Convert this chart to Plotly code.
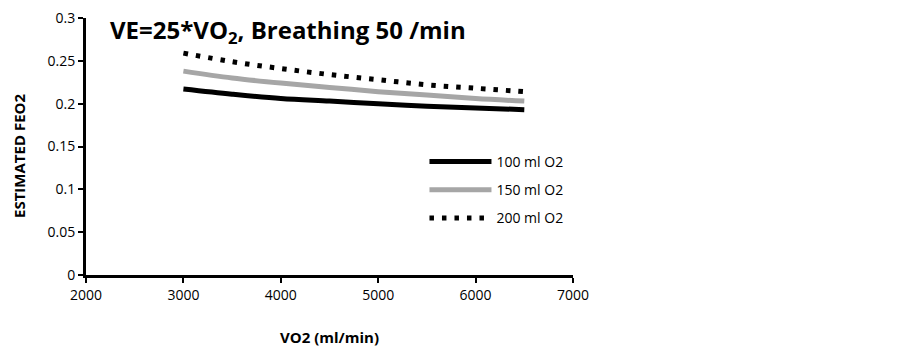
import plotly.graph_objects as go

vo2 = [3000, 3500, 4000, 4500, 5000, 5500, 6000, 6500]
feo2_100 = [0.217, 0.211, 0.206, 0.203, 0.200, 0.197, 0.195, 0.193]
feo2_150 = [0.238, 0.230, 0.224, 0.219, 0.214, 0.210, 0.206, 0.203]
feo2_200 = [0.259, 0.249, 0.241, 0.234, 0.228, 0.222, 0.218, 0.214]
names = ["100 ml O2", "150 ml O2", "200 ml O2"]

FONT = "Open Sans"

fig = go.Figure()
fig.add_trace(go.Scatter(x=vo2, y=feo2_100, mode="lines", name=names[0], legendgroup="a",
                         line=dict(color="black", width=5, shape="spline")))
fig.add_trace(go.Scatter(x=vo2, y=feo2_150, mode="lines", name=names[1], legendgroup="b",
                         line=dict(color="#a6a6a6", width=5, shape="spline")))
fig.add_trace(go.Scatter(x=vo2, y=feo2_200, mode="lines", name=names[2], legendgroup="c",
                         line=dict(color="black", width=5, shape="spline", dash="4.5px,8px")))

fig.update_layout(
    width=895, height=343,
    margin=dict(l=78, r=330, t=10, b=76),
    plot_bgcolor="white", paper_bgcolor="white",
    font=dict(family=FONT, size=14, color="black"),
    showlegend=True,
    legend=dict(x=0.695, y=0.502, xanchor="left", yanchor="top",
                bgcolor="rgba(0,0,0,0)", tracegroupgap=7, itemwidth=62,
                font=dict(family=FONT, size=14, color="black")),
    annotations=[
        dict(text="<b>VE=25*VO<sub>2</sub>, Breathing 50 /min</b>",
             xref="paper", yref="paper", x=0.045, y=1.027,
             xanchor="left", yanchor="top", showarrow=False,
             font=dict(family=FONT, size=24, color="black")),
        dict(text="<b>ESTIMATED FEO2</b>", textangle=-90,
             xref="paper", yref="paper", x=-0.1376, y=0.463,
             xanchor="center", yanchor="middle", showarrow=False,
             font=dict(family=FONT, size=15, color="black")),
    ],
)
fig.update_xaxes(range=[2000, 7000], tickvals=[2000, 3000, 4000, 5000, 6000, 7000],
                 showline=True, linecolor="black", linewidth=3, showgrid=False, zeroline=False,
                 ticks="outside", ticklen=5, tickwidth=2, tickcolor="black", automargin=False,
                 ticklabeloverflow="allow",
                 tickfont=dict(family=FONT, size=14),
                 title=dict(text="<b>VO2 (ml/min)</b>", font=dict(family=FONT, size=15), standoff=30))
fig.update_yaxes(range=[0, 0.3], tickvals=[0, 0.05, 0.1, 0.15, 0.2, 0.25, 0.3],
                 ticktext=["0", "0.05", "0.1", "0.15", "0.2", "0.25", "0.3"],
                 showline=True, linecolor="black", linewidth=3, showgrid=False, zeroline=False,
                 ticks="outside", ticklen=5, tickwidth=2, tickcolor="black", automargin=False,
                 ticklabeloverflow="allow",
                 tickfont=dict(family=FONT, size=14))

fig.write_html("out.html")
